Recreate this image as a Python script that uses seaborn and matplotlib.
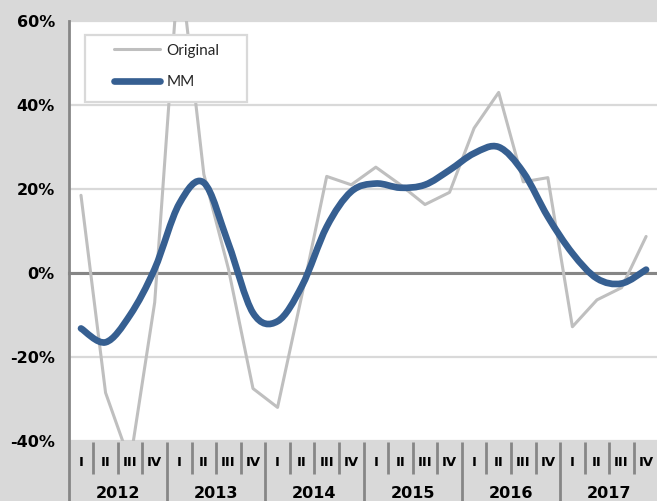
import numpy as np
import pandas as pd
import matplotlib
matplotlib.use("Agg")
import matplotlib.pyplot as plt
import matplotlib.transforms as mtransforms
from matplotlib.path import Path
from matplotlib.patches import PathPatch, Rectangle
from matplotlib.lines import Line2D
import seaborn as sns

# ---------------- data ----------------
years = ["2012", "2013", "2014", "2015", "2016", "2017"]
quarters = ["I", "II", "III", "IV"]
original = [18.5, -28.5, -45.0, -7.0,
            75.0, 23.5, 1.0, -27.5,
            -32.0, -5.0, 23.0, 21.0,
            25.2, 21.0, 16.3, 19.2,
            34.5, 43.0, 21.7, 22.7,
            -12.8, -6.4, -3.5, 8.7]
mm = [-13.2, -16.5, -10.0, 1.0,
      16.5, 21.5, 7.0, -9.5,
      -11.5, -3.0, 11.0, 19.4,
      21.3, 20.3, 21.0, 24.5,
      28.5, 30.0, 24.0, 13.4,
      4.7, -1.3, -2.5, 0.8]
yticks = [-40, -20, 0, 20, 40, 60]

n = len(original)
idx = np.arange(n)
df = pd.DataFrame({"pos": idx, "Original": original, "MM": mm})

# ---------------- style ----------------
sns.set_style("white")
BG = "#D9D9D9"
AXIS = "#868686"
GREY = "#BFBFBF"
BLUE = "#365F91"
plt.rcParams["font.family"] = ["DejaVu Sans"]

W, H = 657, 501
fig = plt.figure(figsize=(W / 100, H / 100), dpi=100, facecolor=BG)
x0, x1 = 68.7, 658.4
ytop, ybot = 21, 441
ax = fig.add_axes([x0 / W, 1 - ybot / H, (x1 - x0) / W, (ybot - ytop) / H])
ax.set_facecolor("white")
axh = ybot - ytop

# Original series
sns.lineplot(data=df, x="pos", y="Original", ax=ax, color=GREY, lw=2.2,
             legend=False, zorder=3)

# MM series: smoothed (Bezier through the data points, like Excel's smoothed line)
P = np.column_stack([idx, np.array(mm, dtype=float)])
verts = [P[0]]
codes = [Path.MOVETO]
for i in range(n - 1):
    p_prev = P[i - 1] if i > 0 else P[i]
    p_next2 = P[i + 2] if i + 2 < n else P[i + 1]
    c1 = P[i] + (P[i + 1] - p_prev) / 6.0
    c2 = P[i + 1] - (p_next2 - P[i]) / 6.0
    verts += [c1, c2, P[i + 1]]
    codes += [Path.CURVE4] * 3
patch = PathPatch(Path(np.array(verts), codes), facecolor="none", edgecolor=BLUE,
                  lw=4.8, capstyle="round", joinstyle="round", zorder=3.5,
                  transform=ax.transData)
ax.add_patch(patch)

# axes limits / ticks
ax.set_xlim(-0.5, n - 0.5)
ax.set_ylim(-40, 60)
ax.set_yticks(yticks)
ax.set_yticklabels([f"{v}%" for v in yticks], fontsize=11.5, fontweight="bold",
                   color="black")
ax.tick_params(axis="y", direction="out", length=4, width=1.5, color=AXIS, pad=6)
ax.yaxis.grid(True, color=BG, lw=1.6)
ax.xaxis.grid(False)
ax.set_axisbelow(True)

ax.set_xticks([])
ax.set_xticks(np.arange(0.5, n - 1, 1.0), minor=True)
ax.tick_params(axis="x", which="minor", direction="out", length=3.5, width=1.6,
               color=AXIS, labelbottom=False)
ax.set_xlabel("")
ax.set_ylabel("")

for s in ["top", "right"]:
    ax.spines[s].set_visible(False)
ax.spines["left"].set_color(AXIS)
ax.spines["left"].set_linewidth(2.0)
ax.spines["bottom"].set_position(("data", 0))
ax.spines["bottom"].set_color(AXIS)
ax.spines["bottom"].set_linewidth(2.2)
ax.spines["bottom"].set_zorder(2.5)

# category separators below the plot area
trans = mtransforms.blended_transform_factory(ax.transData, ax.transAxes)
for k in range(n + 1):
    long = (k % 4 == 0)
    ymin = -62 / axh if long else -33 / axh
    ax.vlines(k - 0.5, ymin, -1 / axh, transform=trans, colors=AXIS, lw=2.0,
              clip_on=False, zorder=1)

# quarter and year labels
for i in range(n):
    ax.text(i, -22 / axh, quarters[i % 4], transform=trans, ha="center",
            va="center", fontsize=9.5, fontweight="bold", color="black")
for j, yr in enumerate(years):
    ax.text(4 * j + 1.5, -53 / axh, yr, transform=trans, ha="center",
            va="center", fontsize=11.5, fontweight="bold", color="black")

# legend box
ax.add_patch(Rectangle(((85 - x0) / (x1 - x0), (ybot - 102) / axh),
                       162 / (x1 - x0), 67 / axh, transform=ax.transAxes,
                       facecolor="white", edgecolor=BG, lw=1.6, zorder=4.5))
handles = [Line2D([], [], color=GREY, lw=2.2),
           Line2D([], [], color=BLUE, lw=4.8, solid_capstyle="round")]
leg = ax.legend(handles, ["Original", "MM"], loc="upper left",
                bbox_to_anchor=((114 - x0) / (x1 - x0), (ybot - 43.8) / axh),
                frameon=False, borderpad=0, borderaxespad=0, handlelength=3.0,
                handletextpad=0.45, labelspacing=1.15,
                prop={"family": ["Lato", "DejaVu Sans"], "size": 11})
leg.set_zorder(5)

fig.savefig("out.png", dpi=100, facecolor=BG)
